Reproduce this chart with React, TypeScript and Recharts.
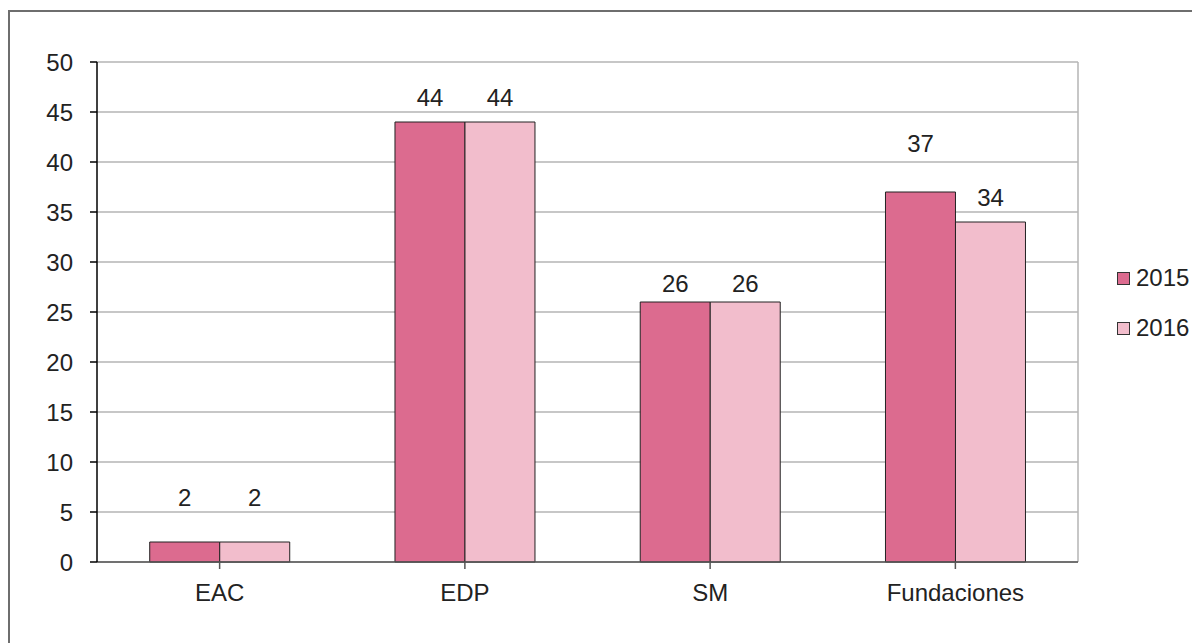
import React from 'react';
import { BarChart, Bar, XAxis, YAxis, CartesianGrid, Legend, LabelList } from 'recharts';

const categories = ['EAC', 'EDP', 'SM', 'Fundaciones'];
const values2015 = [2, 44, 26, 37];
const values2016 = [2, 44, 26, 34];
// where each value label sits, in axis units
const labelPos2015 = [6.5, 46.5, 27.9, 41.9];
const labelPos2016 = [6.5, 46.5, 27.9, 36.5];
const yTicks = [0, 5, 10, 15, 20, 25, 30, 35, 40, 45, 50];
const seriesNames = ['2015', '2016'];
const seriesColors = ['#dc6b8f', '#f2bdcc'];

const data = categories.map((c, i) => ({
  name: c,
  s2015: values2015[i],
  s2016: values2016[i],
}));

const FONT = '"Liberation Sans", Arial, Helvetica, sans-serif';
const TEXT = '#222222';
const FS = 24;

const makeLabel = (positions: number[]) => (props: any) => {
  const { x, y, width, height, value, index } = props;
  if (!value) return null;
  const bottom = y + height;
  const ly = bottom - (positions[index] * height) / value;
  return (
    <text
      x={x + width / 2}
      y={ly}
      textAnchor="middle"
      dominantBaseline="central"
      fill={TEXT}
      fontSize={FS}
      fontFamily={FONT}
    >
      {value}
    </text>
  );
};

const LegendContent = () => (
  <div style={{ fontFamily: FONT, fontSize: FS, color: TEXT }}>
    {seriesNames.map((n, i) => (
      <div key={n} style={{ display: 'flex', alignItems: 'center', height: 30, marginBottom: 20 }}>
        <span
          style={{
            display: 'inline-block',
            width: 11,
            height: 11,
            background: seriesColors[i],
            border: '1px solid #333',
            marginRight: 6,
          }}
        />
        <span>{n}</span>
      </div>
    ))}
  </div>
);

export default function App() {
  return (
    <div style={{ position: 'relative', width: 1192, height: 635, overflow: 'hidden' }}>
      <style>{`body{overflow:hidden}`}</style>
      <div
        style={{
          position: 'absolute',
          left: 0,
          top: 2,
          width: 1300,
          height: 800,
          borderTop: '2px solid #6e6e6e',
          borderLeft: '2px solid #6e6e6e',
          boxSizing: 'border-box',
        }}
      />
      <div style={{ position: 'absolute', left: 0, top: 0 }}>
        <BarChart
          width={1184}
          height={630}
          data={data}
          margin={{ top: 54, right: 34, bottom: 46, left: 0 }}
          barCategoryGap="21.5%"
          barGap={0}
        >
          <CartesianGrid
            stroke="#b4b4b4"
            strokeWidth={1.5}
            verticalCoordinatesGenerator={(p: any) => [p.offset.left + p.offset.width]}
          />
          <XAxis
            dataKey="name"
            height={30}
            tickSize={7}
            tickMargin={15}
            axisLine={{ stroke: '#555555', strokeWidth: 1.5 }}
            tickLine={{ stroke: '#555555', strokeWidth: 1.5 }}
            tick={{ fill: TEXT, fontSize: FS, fontFamily: FONT }}
          />
          <YAxis
            width={89}
            domain={[0, 50]}
            ticks={yTicks}
            interval={0}
            tickSize={7}
            tickMargin={17}
            axisLine={{ stroke: '#000000', strokeWidth: 1.5 }}
            tickLine={{ stroke: '#000000', strokeWidth: 1.5 }}
            tick={{ fill: TEXT, fontSize: FS, fontFamily: FONT }}
          />
          <Legend
            layout="horizontal"
            verticalAlign="middle"
            align="right"
            content={<LegendContent />}
            wrapperStyle={{ position: 'absolute', left: 1109, top: 255, width: 80 }}
          />
          <Bar
            dataKey="s2015"
            name={seriesNames[0]}
            fill={seriesColors[0]}
            stroke="#222"
            strokeWidth={1}
            isAnimationActive={false}
          >
            <LabelList dataKey="s2015" content={makeLabel(labelPos2015)} />
          </Bar>
          <Bar
            dataKey="s2016"
            name={seriesNames[1]}
            fill={seriesColors[1]}
            stroke="#222"
            strokeWidth={1}
            isAnimationActive={false}
          >
            <LabelList dataKey="s2016" content={makeLabel(labelPos2016)} />
          </Bar>
        </BarChart>
      </div>
    </div>
  );
}
